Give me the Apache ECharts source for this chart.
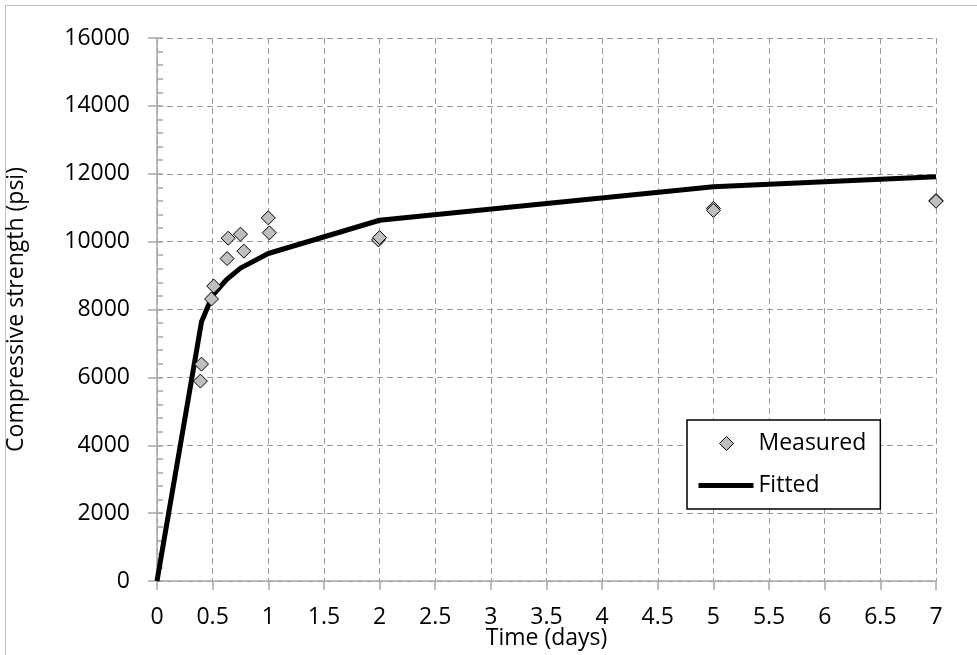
<!DOCTYPE html>
<html>
<head>
<meta charset="utf-8">
<script src="https://cdn.jsdelivr.net/npm/echarts@6/dist/echarts.min.js"></script>
<style>html,body{margin:0;padding:0;background:#fff}#c{width:977px;height:655px}</style>
</head>
<body>
<div id="c"></div>
<script>
// Measured data (time in days, compressive strength in psi)
const measuredTime = [0.39, 0.40, 0.49, 0.51, 0.63, 0.64, 0.75, 0.78, 1.00, 1.01, 1.99, 2.00, 5.00, 5.00, 7.00, 7.00];
const measuredStrength = [5890, 6390, 8310, 8690, 9500, 10100, 10220, 9720, 10700, 10260, 10050, 10120, 10980, 10920, 11210, 11190];
// Fitted curve
const fittedTime = [0, 0.4, 0.5, 0.625, 0.75, 1, 2, 5, 7];
const fittedStrength = [0, 7640, 8420, 8880, 9220, 9650, 10630, 11620, 11910];
// Axis ticks
const xTicks = [0, 0.5, 1, 1.5, 2, 2.5, 3, 3.5, 4, 4.5, 5, 5.5, 6, 6.5, 7];
const yTicks = [0, 2000, 4000, 6000, 8000, 10000, 12000, 14000, 16000];

const FONT = 'Open Sans';
const FS = 23;
const axisGray = '#a6a6a6';
const gridGray = '#9a9a9a';

const chart = echarts.init(document.getElementById('c'), null, {renderer: 'canvas'});
chart.setOption({
  animation: false,
  backgroundColor: '#fff',
  textStyle: {fontFamily: FONT},
  graphic: [
    {type: 'line', shape: {x1: 5.5, y1: 5, x2: 5.5, y2: 655}, style: {stroke: '#c0c0c0', lineWidth: 1}},
    {type: 'line', shape: {x1: 5, y1: 5.5, x2: 977, y2: 5.5}, style: {stroke: '#c0c0c0', lineWidth: 1}}
  ],
  grid: {left: 157, right: 41, top: 38, bottom: 74, containLabel: false, outerBoundsMode: 'none'},
  legend: {
    orient: 'vertical',
    left: 687, top: 420,
    padding: [12, 14, 12, 11],
    borderColor: '#000', borderWidth: 1.5,
    backgroundColor: '#fff',
    itemWidth: 55, itemHeight: 14, itemGap: 19,
    symbolKeepAspect: true,
    textStyle: {fontFamily: FONT, fontSize: FS, color: '#000'},
    data: [
      {name: 'Measured', icon: 'path://M0,7L0,7ZM55,7L55,7ZM28,0L35,7L28,14L21,7Z',
       itemStyle: {color: '#bfbfbf', borderColor: '#000', borderWidth: 1}},
      {name: 'Fitted', icon: 'path://M0,0L55,0L55,5L0,5Z',
       itemStyle: {color: '#000', borderWidth: 0}}
    ]
  },
  xAxis: {
    type: 'value', min: 0, max: 7, interval: 0.5,
    name: 'Time (days)', nameLocation: 'middle', nameGap: 46, nameMoveOverlap: false,
    nameTextStyle: {fontFamily: FONT, fontSize: FS, color: '#000'},
    axisLine: {show: true, onZero: false, lineStyle: {color: axisGray, width: 1.5}},
    axisTick: {show: true, length: 9, lineStyle: {color: axisGray, width: 1.5}},
    axisLabel: {fontFamily: FONT, fontSize: FS, color: '#000', margin: 25,
      formatter: v => xTicks.includes(v) ? String(v) : ''},
    splitLine: {show: true, lineStyle: {color: gridGray, type: [6, 4], width: 1}}
  },
  yAxis: [
    {
      type: 'value', min: 0, max: 16000, interval: 2000,
      name: 'Compressive strength (psi)', nameLocation: 'middle', nameGap: 129, nameMoveOverlap: false,
      nameTextStyle: {fontFamily: FONT, fontSize: FS, color: '#000'},
      axisLine: {show: true, onZero: false, lineStyle: {color: axisGray, width: 1.5}},
      axisTick: {show: true, length: 9, lineStyle: {color: axisGray, width: 1.5}},
      axisLabel: {fontFamily: FONT, fontSize: FS, color: '#000', margin: 27,
        formatter: v => yTicks.includes(v) ? String(v) : ''},
      splitLine: {show: true, lineStyle: {color: gridGray, type: [6, 4], width: 1}}
    },
    {
      type: 'value', min: 0, max: 16000, interval: 2000, position: 'left',
      axisLine: {show: false},
      axisTick: {show: true, inside: true, length: 6, lineStyle: {color: axisGray, width: 1.5}},
      minorTick: {show: true, splitNumber: 5, length: 6, lineStyle: {color: axisGray, width: 1.5}},
      axisLabel: {show: false},
      splitLine: {show: false}
    }
  ],
  series: [
    {
      name: 'Fitted', type: 'line', yAxisIndex: 0,
      data: fittedTime.map((t, i) => [t, fittedStrength[i]]),
      symbol: 'none', smooth: false,
      lineStyle: {color: '#000', width: 5},
      itemStyle: {color: '#000'},
      z: 2
    },
    {
      name: 'Measured', type: 'scatter', yAxisIndex: 0,
      data: measuredTime.map((t, i) => [t, measuredStrength[i]]),
      symbol: 'diamond', symbolSize: 14,
      itemStyle: {color: '#bfbfbf', borderColor: '#000', borderWidth: 1, opacity: 1},
      z: 3
    }
  ]
});
</script>
</body>
</html>
